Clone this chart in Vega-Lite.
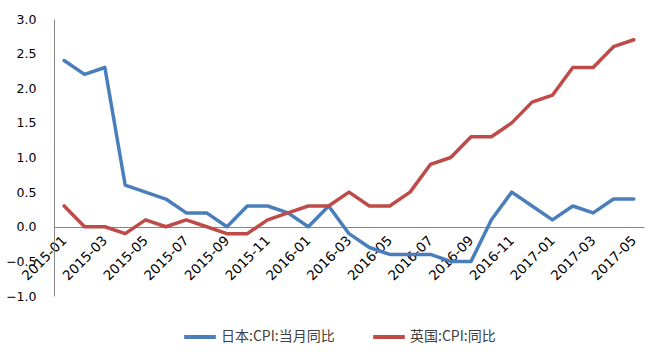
{
  "$schema": "https://vega.github.io/schema/vega-lite/v6.json",
  "autosize": {"type": "none"},
  "width": 590,
  "height": 277,
  "padding": {"left": 54, "top": 19, "right": 23, "bottom": 61},
  "background": "white",
  "config": {"view": {"stroke": null}},
  "data": {
    "values": [
      {"month": "2015-01", "series": "日本:CPI:当月同比", "value": 2.4},
      {"month": "2015-02", "series": "日本:CPI:当月同比", "value": 2.2},
      {"month": "2015-03", "series": "日本:CPI:当月同比", "value": 2.3},
      {"month": "2015-04", "series": "日本:CPI:当月同比", "value": 0.6},
      {"month": "2015-05", "series": "日本:CPI:当月同比", "value": 0.5},
      {"month": "2015-06", "series": "日本:CPI:当月同比", "value": 0.4},
      {"month": "2015-07", "series": "日本:CPI:当月同比", "value": 0.2},
      {"month": "2015-08", "series": "日本:CPI:当月同比", "value": 0.2},
      {"month": "2015-09", "series": "日本:CPI:当月同比", "value": 0.0},
      {"month": "2015-10", "series": "日本:CPI:当月同比", "value": 0.3},
      {"month": "2015-11", "series": "日本:CPI:当月同比", "value": 0.3},
      {"month": "2015-12", "series": "日本:CPI:当月同比", "value": 0.2},
      {"month": "2016-01", "series": "日本:CPI:当月同比", "value": 0.0},
      {"month": "2016-02", "series": "日本:CPI:当月同比", "value": 0.3},
      {"month": "2016-03", "series": "日本:CPI:当月同比", "value": -0.1},
      {"month": "2016-04", "series": "日本:CPI:当月同比", "value": -0.3},
      {"month": "2016-05", "series": "日本:CPI:当月同比", "value": -0.4},
      {"month": "2016-06", "series": "日本:CPI:当月同比", "value": -0.4},
      {"month": "2016-07", "series": "日本:CPI:当月同比", "value": -0.4},
      {"month": "2016-08", "series": "日本:CPI:当月同比", "value": -0.5},
      {"month": "2016-09", "series": "日本:CPI:当月同比", "value": -0.5},
      {"month": "2016-10", "series": "日本:CPI:当月同比", "value": 0.1},
      {"month": "2016-11", "series": "日本:CPI:当月同比", "value": 0.5},
      {"month": "2016-12", "series": "日本:CPI:当月同比", "value": 0.3},
      {"month": "2017-01", "series": "日本:CPI:当月同比", "value": 0.1},
      {"month": "2017-02", "series": "日本:CPI:当月同比", "value": 0.3},
      {"month": "2017-03", "series": "日本:CPI:当月同比", "value": 0.2},
      {"month": "2017-04", "series": "日本:CPI:当月同比", "value": 0.4},
      {"month": "2017-05", "series": "日本:CPI:当月同比", "value": 0.4},
      {"month": "2015-01", "series": "英国:CPI:同比", "value": 0.3},
      {"month": "2015-02", "series": "英国:CPI:同比", "value": 0.0},
      {"month": "2015-03", "series": "英国:CPI:同比", "value": 0.0},
      {"month": "2015-04", "series": "英国:CPI:同比", "value": -0.1},
      {"month": "2015-05", "series": "英国:CPI:同比", "value": 0.1},
      {"month": "2015-06", "series": "英国:CPI:同比", "value": 0.0},
      {"month": "2015-07", "series": "英国:CPI:同比", "value": 0.1},
      {"month": "2015-08", "series": "英国:CPI:同比", "value": 0.0},
      {"month": "2015-09", "series": "英国:CPI:同比", "value": -0.1},
      {"month": "2015-10", "series": "英国:CPI:同比", "value": -0.1},
      {"month": "2015-11", "series": "英国:CPI:同比", "value": 0.1},
      {"month": "2015-12", "series": "英国:CPI:同比", "value": 0.2},
      {"month": "2016-01", "series": "英国:CPI:同比", "value": 0.3},
      {"month": "2016-02", "series": "英国:CPI:同比", "value": 0.3},
      {"month": "2016-03", "series": "英国:CPI:同比", "value": 0.5},
      {"month": "2016-04", "series": "英国:CPI:同比", "value": 0.3},
      {"month": "2016-05", "series": "英国:CPI:同比", "value": 0.3},
      {"month": "2016-06", "series": "英国:CPI:同比", "value": 0.5},
      {"month": "2016-07", "series": "英国:CPI:同比", "value": 0.9},
      {"month": "2016-08", "series": "英国:CPI:同比", "value": 1.0},
      {"month": "2016-09", "series": "英国:CPI:同比", "value": 1.3},
      {"month": "2016-10", "series": "英国:CPI:同比", "value": 1.3},
      {"month": "2016-11", "series": "英国:CPI:同比", "value": 1.5},
      {"month": "2016-12", "series": "英国:CPI:同比", "value": 1.8},
      {"month": "2017-01", "series": "英国:CPI:同比", "value": 1.9},
      {"month": "2017-02", "series": "英国:CPI:同比", "value": 2.3},
      {"month": "2017-03", "series": "英国:CPI:同比", "value": 2.3},
      {"month": "2017-04", "series": "英国:CPI:同比", "value": 2.6},
      {"month": "2017-05", "series": "英国:CPI:同比", "value": 2.7}
    ]
  },
  "mark": {"type": "line", "strokeWidth": 3.5, "strokeJoin": "round", "strokeCap": "round"},
  "encoding": {
    "x": {
      "field": "month",
      "type": "ordinal",
      "sort": null,
      "scale": {"type": "point", "padding": 0.5},
      "axis": {
        "title": null,
        "offset": -69,
        "domainColor": "#868686",
        "domainWidth": 1,
        "ticks": false,
        "labelAngle": -45,
        "labelAlign": "right",
        "labelBaseline": "middle",
        "labelPadding": 11,
        "labelFont": "DejaVu Sans",
        "labelFontSize": 13.5,
        "labelColor": "#000000",
        "labelExpr": "indexof(['01','03','05','07','09','11'], slice(datum.value, 5)) >= 0 ? datum.value : ''",
        "labelOverlap": false
      }
    },
    "y": {
      "field": "value",
      "type": "quantitative",
      "scale": {"domain": [-1, 3], "nice": false, "zero": false},
      "axis": {
        "title": null,
        "values": [-1, -0.5, 0, 0.5, 1, 1.5, 2, 2.5, 3],
        "format": ".1f",
        "grid": false,
        "ticks": false,
        "domainColor": "#868686",
        "labelPadding": 18,
        "labelFont": "DejaVu Sans",
        "labelFontSize": 12.5,
        "labelColor": "#000000"
      }
    },
    "color": {
      "field": "series",
      "type": "nominal",
      "sort": ["日本:CPI:当月同比", "英国:CPI:同比"],
      "scale": {"range": ["#4A7EBB", "#BE4B48"]},
      "legend": {
        "title": null,
        "orient": "none",
        "legendX": 128,
        "legendY": 300,
        "direction": "horizontal",
        "symbolType": "stroke",
        "symbolSize": 1000,
        "symbolStrokeWidth": 4,
        "labelFont": "Noto Sans CJK SC",
        "labelFontSize": 14,
        "labelColor": "#404040",
        "labelOffset": 3,
        "columnPadding": 30
      }
    }
  }
}
